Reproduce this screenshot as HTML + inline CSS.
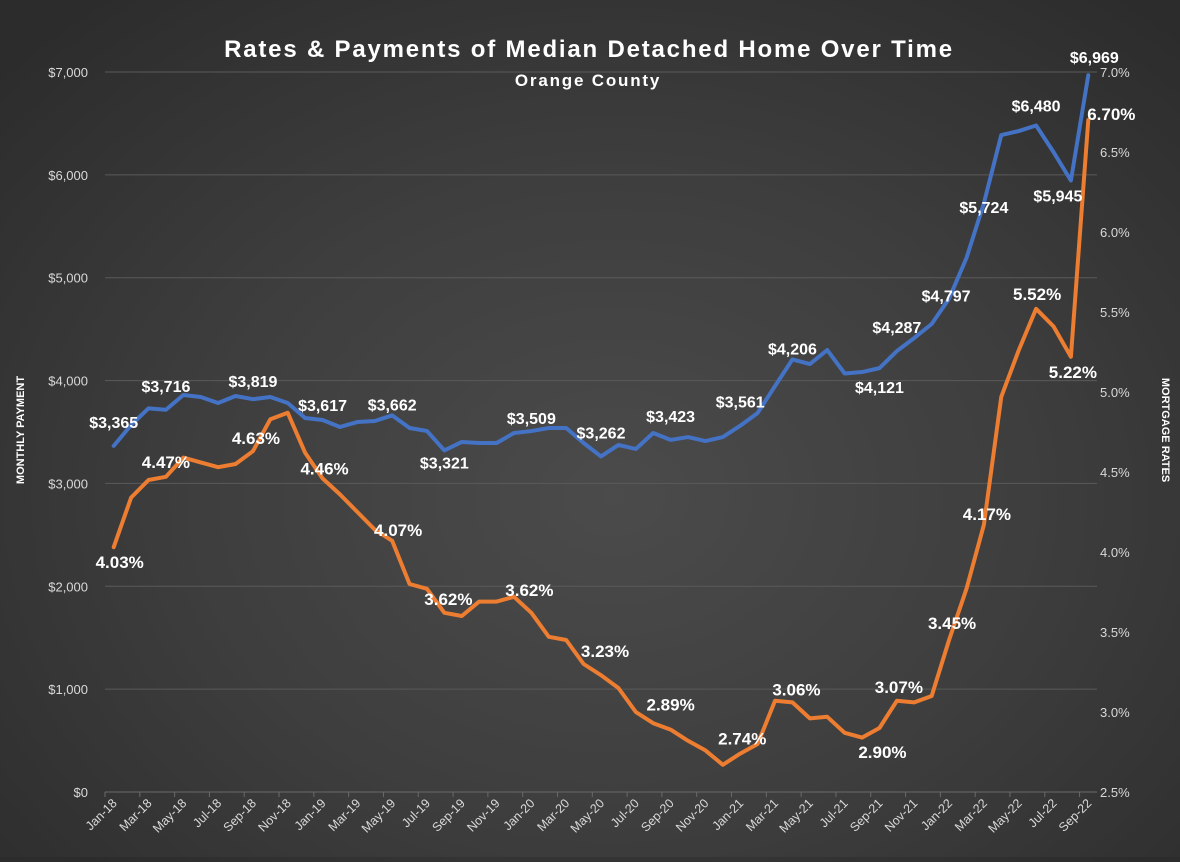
<!DOCTYPE html>
<html><head><meta charset="utf-8">
<style>
html,body{margin:0;padding:0;}
body{width:1180px;height:857px;overflow:hidden;background:radial-gradient(ellipse 70% 75% at 52% 58%,#4b4b4b 0%,#3e3e3e 50%,#2c2c2c 100%);font-family:"Liberation Sans",sans-serif;}
svg text{font-family:"Liberation Sans",sans-serif;}
</style></head>
<body>
<svg id="chart" width="1180" height="857" viewBox="0 0 1180 857" xmlns="http://www.w3.org/2000/svg">
<text x="589" y="57" text-anchor="middle" fill="#fff" font-size="24" font-weight="bold" letter-spacing="1.8">Rates &amp; Payments of Median Detached Home Over Time</text>
<text x="588" y="86" text-anchor="middle" fill="#fff" font-size="17" font-weight="bold" letter-spacing="1.8">Orange County</text>
<text transform="translate(24,430) rotate(-90)" text-anchor="middle" fill="#fff" font-size="11" font-weight="bold">MONTHLY  PAYMENT</text>
<text transform="translate(1162,430) rotate(90)" text-anchor="middle" fill="#fff" font-size="11" font-weight="bold">MORTGAGE RATES</text>
<g id="grid"></g><g id="axes"></g><g id="series"></g><g id="labels"></g>
</svg>
<script>
const months = ["Jan-18","Feb-18","Mar-18","Apr-18","May-18","Jun-18","Jul-18","Aug-18","Sep-18","Oct-18","Nov-18","Dec-18","Jan-19","Feb-19","Mar-19","Apr-19","May-19","Jun-19","Jul-19","Aug-19","Sep-19","Oct-19","Nov-19","Dec-19","Jan-20","Feb-20","Mar-20","Apr-20","May-20","Jun-20","Jul-20","Aug-20","Sep-20","Oct-20","Nov-20","Dec-20","Jan-21","Feb-21","Mar-21","Apr-21","May-21","Jun-21","Jul-21","Aug-21","Sep-21","Oct-21","Nov-21","Dec-21","Jan-22","Feb-22","Mar-22","Apr-22","May-22","Jun-22","Jul-22","Aug-22","Sep-22"];
const payments = [3365,3568,3730,3716,3860,3840,3782,3850,3819,3840,3782,3636,3617,3549,3597,3607,3662,3539,3510,3321,3403,3393,3393,3490,3509,3539,3539,3393,3262,3374,3335,3490,3423,3451,3412,3451,3561,3685,3947,4206,4161,4297,4069,4083,4121,4287,4414,4550,4797,5192,5724,6387,6426,6480,6222,5945,6969];
const rates = [4.03,4.34,4.45,4.47,4.59,4.56,4.53,4.55,4.63,4.83,4.87,4.62,4.46,4.36,4.25,4.14,4.07,3.80,3.77,3.62,3.60,3.69,3.69,3.72,3.62,3.47,3.45,3.30,3.23,3.15,3.00,2.93,2.89,2.82,2.76,2.67,2.74,2.80,3.07,3.06,2.96,2.97,2.87,2.84,2.90,3.07,3.06,3.10,3.45,3.77,4.17,4.97,5.26,5.52,5.41,5.22,6.70];
const leftTicks = [0,1000,2000,3000,4000,5000,6000,7000];
const rightTicks = [2.5,3.0,3.5,4.0,4.5,5.0,5.5,6.0,6.5,7.0];
const payLabelIdx = [0,3,8,12,16,19,24,28,32,36,39,44,45,48,50,53,55,56];
const rateLabelIdx = [0,3,8,12,16,19,24,28,32,36,39,44,45,48,50,53,55,56];
// label offsets (layout only)
const payOff = {0:[0,-24],3:[0,-24],8:[0,-18],12:[0,-15],16:[0,-11],19:[0,12],24:[0,-13],28:[0,-24],32:[0,-24],36:[0,-24],39:[0,-11],44:[0,19],45:[0,-24],48:[-3,-3],50:[0,4],53:[0,-20],55:[-13,15],56:[6,-18]};
const rateOff = {0:[6,15],3:[0,-15],8:[3,-13],12:[2,-10],16:[6,-11],19:[4,-14],24:[-2,-23],28:[4,-24],32:[0,-25],36:[2,-15],39:[4,-13],44:[3,24],45:[2,-14],48:[3,-17],50:[3,-11],53:[1,-15],55:[2,15],56:[23,-6]};

const NS="http://www.w3.org/2000/svg";
const L=105, W=992, T=72, B=792;
const step=W/months.length;
const xS=i=>L+step/2+i*step;
const yL=v=>B-(v/7000)*(B-T);
const yR=v=>B-((v-2.5)/4.5)*(B-T);
function mk(tag,parent,attrs){const e=document.createElementNS(NS,tag);for(const k in attrs)e.setAttribute(k,attrs[k]);parent.appendChild(e);return e;}
const grid=document.getElementById('grid'),axes=document.getElementById('axes'),ser=document.getElementById('series'),lab=document.getElementById('labels');
leftTicks.forEach(v=>{
  const g=mk('line',grid,{x1:L,x2:L+W,y1:yL(v),y2:yL(v),stroke:v===0?'#6a6a6a':'#5a5a5a','stroke-width':1});
  
  
  const t=mk('text',axes,{x:88,y:yL(v)+5,'text-anchor':'end',fill:'#d9d9d9','font-size':13});
  t.textContent='$'+v.toLocaleString('en-US');
  
  
});
rightTicks.forEach(v=>{
  const t=mk('text',axes,{x:1100,y:yR(v)+5,'text-anchor':'start',fill:'#d9d9d9','font-size':13});
  t.textContent=v.toFixed(1)+'%';
  
  
});
months.forEach((m,i)=>{
  if(i%2===0){
    const tk=mk('line',axes,{x1:L+i*step,x2:L+i*step,y1:B,y2:B+5,stroke:'#6a6a6a'});
    
    
    const t=mk('text',axes,{transform:`translate(${xS(i)+4},${B+12}) rotate(-45)`,'text-anchor':'end',fill:'#d9d9d9','font-size':12.5});
    t.textContent=m;
    
    
  }
});
const pb=mk('polyline',ser,{points:payments.map((v,i)=>xS(i)+','+yL(v)).join(' '),fill:'none',stroke:'#4472C4','stroke-width':4,'stroke-linejoin':'round','stroke-linecap':'round'});


const po=mk('polyline',ser,{points:rates.map((v,i)=>xS(i)+','+yR(v)).join(' '),fill:'none',stroke:'#ED7D31','stroke-width':4,'stroke-linejoin':'round','stroke-linecap':'round'});


payLabelIdx.forEach(i=>{
  const o=payOff[i]||[0,-22];
  const t=mk('text',lab,{x:xS(i)+o[0],y:yL(payments[i])+o[1]+6,'text-anchor':'middle',fill:'#fff','font-size':16,'font-weight':'bold'});
  t.textContent='$'+payments[i].toLocaleString('en-US');
  
  
});
rateLabelIdx.forEach(i=>{
  const o=rateOff[i]||[0,-15];
  const t=mk('text',lab,{x:xS(i)+o[0],y:yR(rates[i])+o[1]+6,'text-anchor':'middle',fill:'#fff','font-size':17,'font-weight':'bold'});
  t.textContent=rates[i].toFixed(2)+'%';
  
  
});
</script>
</body></html>
